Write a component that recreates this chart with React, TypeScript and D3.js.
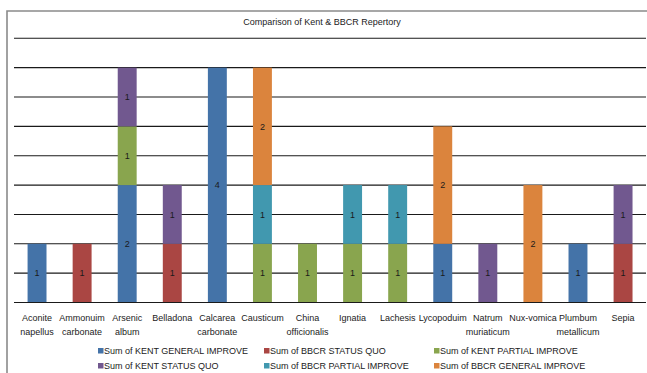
import React, { useEffect, useRef } from 'react';
import * as d3 from 'd3';

const categories = [
  'Aconite napellus', 'Ammonuim carbonate', 'Arsenic album', 'Belladona',
  'Calcarea carbonate', 'Causticum', 'China officionalis', 'Ignatia',
  'Lachesis', 'Lycopoduim', 'Natrum muriaticum', 'Nux-vomica',
  'Plumbum metallicum', 'Sepia',
];

const seriesNames = [
  'Sum of KENT GENERAL IMPROVE',
  'Sum of BBCR STATUS QUO',
  'Sum of KENT PARTIAL IMPROVE',
  'Sum of KENT STATUS QUO',
  'Sum of BBCR PARTIAL IMPROVE',
  'Sum of BBCR GENERAL IMPROVE',
];

const kentGeneral = [1, 0, 2, 0, 4, 0, 0, 0, 0, 1, 0, 0, 1, 0];
const bbcrStatusQuo = [0, 1, 0, 1, 0, 0, 0, 0, 0, 0, 0, 0, 0, 1];
const kentPartial = [0, 0, 1, 0, 0, 1, 1, 1, 1, 0, 0, 0, 0, 0];
const kentStatusQuo = [0, 0, 1, 1, 0, 0, 0, 0, 0, 0, 1, 0, 0, 1];
const bbcrPartial = [0, 0, 0, 0, 0, 1, 0, 1, 1, 0, 0, 0, 0, 0];
const bbcrGeneral = [0, 0, 0, 0, 0, 2, 0, 0, 0, 2, 0, 2, 0, 0];

const colors = ['#4473A8', '#AA4643', '#89A54E', '#71588F', '#4198AF', '#DB843D'];

const yTicks = [0, 0.5, 1, 1.5, 2, 2.5, 3, 3.5, 4, 4.5];

const W = 647, H = 373;

export default function App() {
  const ref = useRef<SVGSVGElement>(null);

  useEffect(() => {
    const svg = d3.select(ref.current);
    svg.selectAll('*').remove();
    const font = 'Liberation Sans, Arial, sans-serif';

    const allSeries = [kentGeneral, bbcrStatusQuo, kentPartial, kentStatusQuo, bbcrPartial, bbcrGeneral];
    const rows = categories.map((c, i) => {
      const r: any = { cat: c };
      seriesNames.forEach((s, j) => (r[s] = allSeries[j][i]));
      return r;
    });

    const x = d3.scaleBand().domain(categories).range([14.5, 645.6]).paddingInner(0.58).paddingOuter(0.29);
    const y = d3.scaleLinear().domain([0, 4.5]).range([302.5, 38.3]);

    // frame
    svg.append('path')
      .attr('d', `M7,${H} V11 H${W}`)
      .attr('fill', 'none').attr('stroke', '#8a8a8a').attr('stroke-width', 1.6);

    svg.append('text')
      .attr('x', 322).attr('y', 25)
      .attr('text-anchor', 'middle')
      .attr('font-family', font).attr('font-size', 9).attr('fill', '#222')
      .text('Comparison of Kent & BBCR Repertory');

    // grid
    svg.append('g').selectAll('line').data(yTicks).enter().append('line')
      .attr('x1', 14).attr('x2', 646)
      .attr('y1', d => y(d)).attr('y2', d => y(d))
      .attr('stroke', '#1a1a1a').attr('stroke-width', 1.1);

    const stack = d3.stack<any>().keys(seriesNames);
    const stacked = stack(rows);

    const g = svg.append('g');
    stacked.forEach((layer, j) => {
      g.append('g').selectAll('rect').data(layer.filter(d => d[1] - d[0] > 0)).enter().append('rect')
        .attr('x', d => x(d.data.cat)!)
        .attr('width', x.bandwidth())
        .attr('y', d => y(d[1]))
        .attr('height', d => y(d[0]) - y(d[1]))
        .attr('fill', colors[j]);
    });
    stacked.forEach(layer => {
      g.append('g').selectAll('text').data(layer.filter(d => d[1] - d[0] > 0)).enter().append('text')
        .attr('x', d => x(d.data.cat)! + x.bandwidth() / 2)
        .attr('y', d => y((d[0] + d[1]) / 2) + 3.2)
        .attr('text-anchor', 'middle')
        .attr('font-family', font).attr('font-size', 9).attr('fill', '#1a1a1a')
        .text(d => d[1] - d[0]);
    });

    // baseline
    svg.append('line').attr('x1', 14).attr('x2', 646).attr('y1', y(0)).attr('y2', y(0))
      .attr('stroke', '#1a1a1a').attr('stroke-width', 1.1);

    // category labels
    const lab = svg.append('g').selectAll('text').data(categories).enter().append('text')
      .attr('x', d => x(d)! + x.bandwidth() / 2)
      .attr('y', 321)
      .attr('text-anchor', 'middle')
      .attr('font-family', font).attr('font-size', 9).attr('fill', '#222');
    lab.each(function (d) {
      const t = d3.select(this);
      d.split(' ').forEach((w, k) => {
        t.append('tspan').attr('x', x(d)! + x.bandwidth() / 2).attr('dy', k === 0 ? 0 : 14).text(w);
      });
    });

    // legend
    const legX = [98, 264, 434];
    const legY = [351, 366];
    seriesNames.forEach((s, j) => {
      const lx = legX[j % 3], ly = legY[Math.floor(j / 3)];
      svg.append('rect').attr('x', lx).attr('y', ly - 3).attr('width', 5.5).attr('height', 5.5).attr('fill', colors[j]);
      svg.append('text').attr('x', lx + 6).attr('y', ly + 3.2)
        .attr('font-family', font).attr('font-size', 9).attr('fill', '#222')
        .text(s);
    });
  }, []);

  return (
    <svg ref={ref} width={W} height={H} style={{ position: 'absolute', left: 0, top: 0, background: '#fff' }} />
  );
}
